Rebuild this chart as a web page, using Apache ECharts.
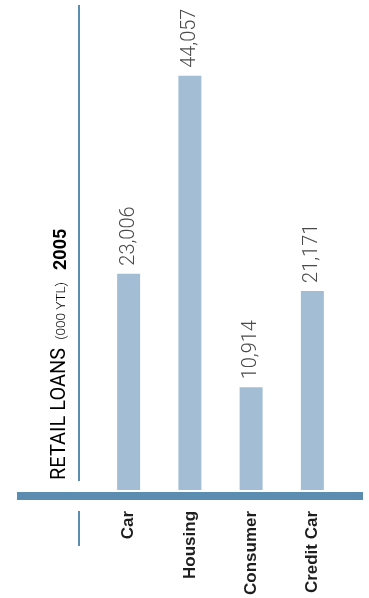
<!DOCTYPE html>
<html>
<head>
<meta charset="utf-8">
<script src="https://cdn.jsdelivr.net/npm/echarts@6/dist/echarts.min.js"></script>
<style>html,body{margin:0;padding:0;background:#fff;}#c{width:369px;height:598px;}</style>
</head>
<body>
<div id="c"></div>
<script>
const categories = ['Car', 'Housing', 'Consumer', 'Credit Car'];
const values = [23006, 44057, 10914, 21171];
const titleMain = 'RETAIL LOANS';
const titleUnit = '(000 YTL)';
const titleYear = '2005';

const chart = echarts.init(document.getElementById('c'), null, {renderer: 'canvas'});
const rob = 'Roboto, "DejaVu Sans Condensed", sans-serif';
chart.setOption({
  animation: false,
  backgroundColor: '#ffffff',
  grid: {left: 98, right: 26, top: 20, bottom: 106},
  xAxis: {
    type: 'category',
    data: categories,
    axisLine: {show: false},
    axisTick: {show: false},
    axisLabel: {
      rotate: 90, margin: 21, color: '#1e1e1e', fontWeight: 'bold', fontSize: 17,
      fontFamily: '"Liberation Sans", Arial, sans-serif'
    }
  },
  yAxis: {type: 'value', min: 0, max: 50000, show: false, splitLine: {show: false}},
  series: [{
    type: 'bar',
    data: values,
    barWidth: 23,
    itemStyle: {color: '#a3bed4'},
    label: {
      show: true, position: 'top', rotate: 90, align: 'left', verticalAlign: 'middle',
      distance: 8, color: '#4a4a4a', fontSize: 20, fontWeight: 300, fontFamily: rob,
      formatter: p => p.value.toLocaleString('en-US')
    }
  }],
  graphic: [
    {type: 'rect', shape: {x: 17, y: 492, width: 346, height: 8}, style: {fill: '#5a8db0'}, silent: true},
    {type: 'rect', shape: {x: 78, y: 5, width: 2, height: 476}, style: {fill: '#5a8db0'}, silent: true},
    {type: 'rect', shape: {x: 78, y: 511, width: 2, height: 35}, style: {fill: '#5a8db0'}, silent: true},
    {
      type: 'text', x: 60, y: 480, rotation: Math.PI / 2,
      style: {
        text: '{a|' + titleMain + '}{b|' + titleUnit + '}{c|' + titleYear + '}',
        align: 'left', verticalAlign: 'middle',
        rich: {
          a: {fontSize: 20, fontFamily: rob, color: '#1e1e1e', fontWeight: 'normal', verticalAlign: 'bottom'},
          b: {fontSize: 13.5, fontFamily: rob, color: '#444', fontWeight: 300, verticalAlign: 'bottom', padding: [0, 12, 1, 8]},
          c: {fontSize: 18, fontFamily: rob, color: '#1e1e1e', fontWeight: 'bold', verticalAlign: 'bottom'}
        }
      }
    }
  ]
});
</script>
</body>
</html>
